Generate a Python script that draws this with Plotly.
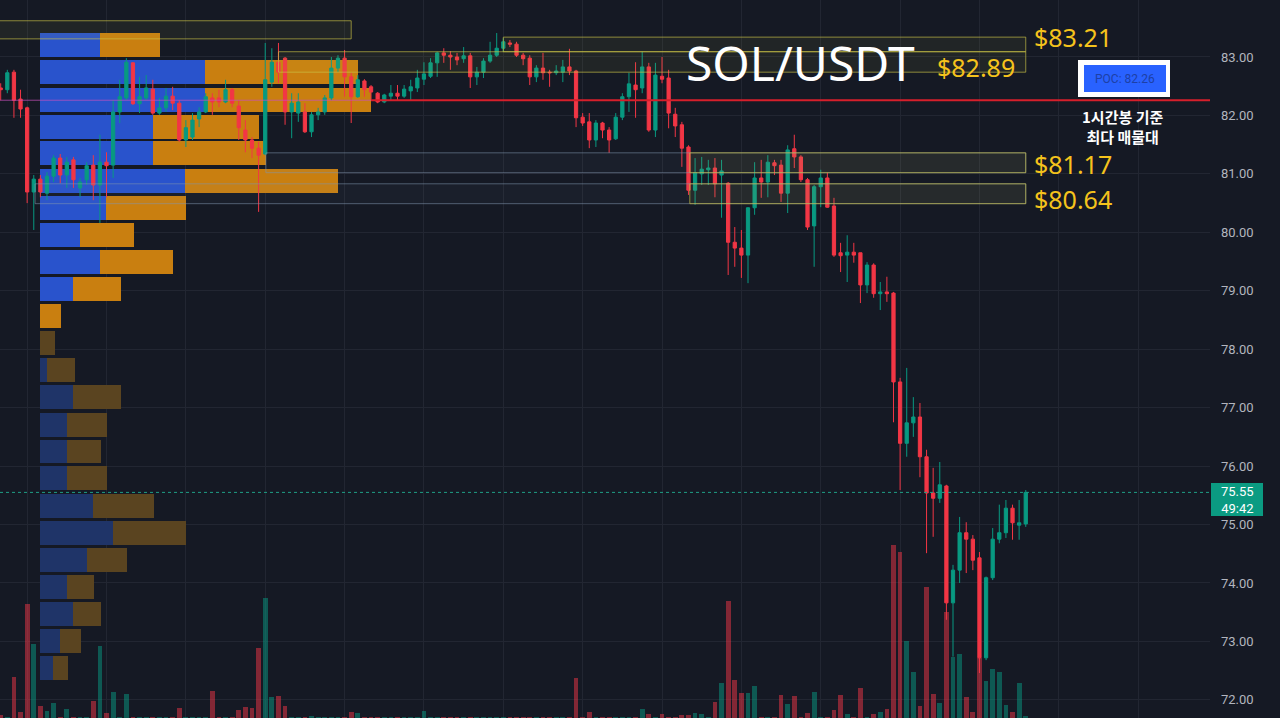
import plotly.graph_objects as go

# ---------------- data ----------------
# 1h candles, oldest first
opens = [
    82.47,
    82.44, 82.74, 82.28, 82.13, 80.69, 80.91, 80.67, 80.96, 81.27, 80.98,
    81.24, 80.76, 80.90, 81.15, 80.81, 81.20, 81.15, 82.06, 82.30, 82.90,
    82.20, 82.30, 82.45, 82.04, 82.13, 82.33, 82.21, 81.58, 81.63, 81.94,
    82.06, 82.30, 82.30, 82.23, 82.44, 82.16, 81.75, 81.58, 81.44, 81.34,
    82.57, 82.91, 82.98, 82.06, 82.04, 82.06, 81.72, 82.01, 82.06, 82.30,
    82.81, 82.98, 82.66, 82.32, 82.59, 82.49, 82.38, 82.23, 82.33, 82.38,
    82.33, 82.42, 82.47, 82.62, 82.67, 82.90, 83.07, 83.03, 83.00, 82.97,
    83.02, 82.66, 82.74, 82.93, 83.03, 83.15, 83.24, 83.22, 83.03, 82.98,
    82.66, 82.81, 82.74, 82.73, 82.74, 82.83, 82.76, 81.97, 81.89, 81.58,
    81.87, 81.75, 81.60, 81.97, 82.32, 82.52, 82.47, 82.83, 81.75, 82.67,
    82.64, 82.02, 81.84, 81.46, 80.72, 81.00, 81.07, 81.10, 80.98, 80.84,
    79.83, 79.73, 79.61, 80.42, 80.93, 80.86, 81.19, 81.15, 80.67, 81.43,
    81.29, 80.90, 80.11, 80.78, 80.93, 80.45, 79.65, 79.61, 79.66, 79.65,
    79.10, 79.44, 78.95, 78.98, 78.96, 77.44, 76.39, 76.74, 76.84, 76.16,
    75.54, 75.45, 75.66, 73.66, 74.22, 74.86, 74.75, 74.43, 72.72, 74.09,
    74.75, 74.86, 75.28, 74.99, 75.01,
]
highs = [
    82.55,
    82.78, 82.78, 82.44, 82.15, 80.98, 80.98, 81.03, 81.32, 81.34, 81.29,
    81.29, 80.93, 81.20, 81.32, 81.67, 81.37, 82.26, 82.61, 82.98, 82.91,
    82.66, 82.69, 82.61, 82.30, 82.47, 82.49, 82.26, 81.92, 82.04, 82.14,
    82.38, 82.38, 82.44, 82.61, 82.47, 82.26, 81.92, 81.63, 81.55, 83.24,
    83.15, 83.24, 83.00, 82.38, 82.38, 82.21, 82.06, 82.13, 82.35, 83.00,
    83.03, 83.12, 82.73, 82.69, 82.62, 82.52, 82.40, 82.37, 82.52, 82.52,
    82.52, 82.61, 82.78, 82.91, 82.98, 83.09, 83.15, 83.10, 83.07, 83.17,
    83.07, 82.83, 82.98, 83.26, 83.41, 83.32, 83.29, 83.26, 83.07, 83.03,
    82.86, 83.07, 82.78, 82.86, 82.95, 83.14, 82.78, 82.04, 82.04, 81.92,
    81.89, 81.80, 82.04, 82.38, 82.73, 82.91, 83.09, 82.90, 82.90, 83.00,
    82.78, 82.13, 81.89, 81.49, 81.27, 81.29, 81.24, 81.27, 81.24, 80.86,
    80.09, 80.04, 80.43, 81.20, 81.24, 81.32, 81.24, 81.24, 81.49, 81.67,
    81.32, 80.93, 80.81, 81.07, 81.02, 80.59, 79.82, 79.95, 79.82, 79.65,
    79.49, 79.47, 79.15, 79.24, 78.98, 77.51, 77.68, 77.18, 77.08, 76.28,
    75.97, 76.07, 75.68, 74.31, 75.13, 75.04, 74.82, 74.53, 74.11, 74.94,
    75.34, 75.42, 75.34, 75.42, 75.59,
]
lows = [
    82.26,
    82.38, 81.96, 81.96, 80.50, 80.04, 80.60, 80.55, 80.86, 80.84, 80.76,
    80.76, 80.60, 80.81, 80.55, 80.16, 80.60, 80.93, 81.87, 82.26, 82.18,
    82.04, 82.26, 82.01, 82.01, 82.06, 82.09, 81.55, 81.46, 81.58, 81.80,
    82.04, 82.01, 82.14, 82.21, 82.14, 81.58, 81.37, 81.27, 80.35, 81.32,
    82.49, 82.55, 81.84, 81.61, 81.89, 81.70, 81.63, 81.92, 82.01, 82.26,
    82.74, 82.32, 81.87, 82.30, 82.32, 82.26, 82.21, 82.21, 82.26, 82.26,
    82.30, 82.26, 82.40, 82.52, 82.64, 82.66, 82.90, 82.78, 82.86, 82.90,
    82.47, 82.52, 82.64, 82.90, 83.00, 83.09, 83.17, 83.00, 82.86, 82.52,
    82.57, 82.61, 82.49, 82.69, 82.57, 82.69, 81.80, 81.82, 81.44, 81.46,
    81.61, 81.36, 81.58, 81.92, 82.06, 81.96, 82.38, 81.72, 81.63, 82.55,
    81.78, 81.63, 81.12, 80.64, 80.47, 80.81, 80.81, 80.60, 80.25, 79.27,
    79.41, 79.22, 79.13, 80.30, 80.59, 80.60, 80.98, 80.52, 80.33, 81.10,
    80.86, 80.04, 79.41, 80.43, 80.42, 79.58, 79.32, 79.15, 79.48, 78.79,
    78.96, 78.88, 78.67, 78.81, 76.75, 75.59, 76.16, 76.50, 75.81, 74.51,
    74.79, 75.37, 73.37, 72.74, 74.00, 74.17, 74.22, 72.46, 72.68, 74.05,
    74.68, 74.77, 74.74, 74.74, 74.96,
]
closes = [
    82.44,
    82.73, 82.26, 82.11, 80.69, 80.91, 80.69, 80.96, 81.27, 80.98, 81.20,
    80.90, 80.86, 81.14, 80.81, 81.20, 81.14, 82.06, 82.32, 82.91, 82.20,
    82.32, 82.47, 82.04, 82.13, 82.33, 82.21, 81.58, 81.79, 81.92, 82.06,
    82.32, 82.23, 82.23, 82.44, 82.21, 81.79, 81.58, 81.44, 81.32, 82.61,
    82.91, 82.74, 82.06, 82.21, 82.23, 81.72, 82.01, 82.06, 82.30, 82.81,
    82.98, 82.66, 82.32, 82.61, 82.44, 82.40, 82.23, 82.35, 82.38, 82.33,
    82.45, 82.49, 82.64, 82.71, 82.90, 83.07, 83.03, 83.00, 82.95, 83.02,
    82.66, 82.74, 82.93, 83.03, 83.15, 83.26, 83.22, 83.03, 82.97, 82.66,
    82.81, 82.73, 82.73, 82.76, 82.83, 82.76, 81.96, 81.87, 81.58, 81.87,
    81.75, 81.58, 81.97, 82.32, 82.54, 82.44, 82.83, 81.75, 82.69, 82.62,
    82.04, 81.82, 81.44, 80.72, 81.02, 81.08, 81.10, 80.83, 81.05, 79.83,
    79.73, 79.61, 80.42, 80.93, 80.86, 81.20, 81.14, 80.67, 81.41, 81.29,
    80.90, 80.09, 80.78, 80.93, 80.43, 79.61, 79.60, 79.66, 79.61, 79.10,
    79.44, 78.95, 78.98, 78.95, 77.44, 76.39, 76.74, 76.84, 76.16, 75.54,
    75.45, 75.68, 73.66, 74.22, 74.86, 74.75, 74.39, 72.72, 74.09, 74.75,
    74.86, 75.28, 75.03, 75.03, 75.55,
]
volumes = [
    3,
    1, 41, 6, 114, 74, 12, 7, 15, 1, 9,
    1, 1, 1, 17, 72, 5, 26, 1, 24, 1,
    1, 1, 1, 1, 1, 1, 10, 1, 1, 1,
    1, 27, 1, 1, 1, 8, 11, 10, 70, 120,
    21, 22, 12, 1, 1, 1, 2, 1, 1, 1,
    1, 1, 6, 5, 1, 1, 1, 1, 1, 1,
    1, 1, 1, 7, 1, 1, 1, 1, 1, 1,
    1, 1, 1, 1, 1, 1, 1, 1, 1, 1,
    1, 1, 1, 1, 1, 1, 40, 1, 6, 1,
    1, 1, 1, 1, 1, 1, 9, 4, 1, 4,
    1, 1, 3, 3, 5, 4, 1, 16, 35, 117,
    38, 25, 25, 32, 1, 1, 1, 23, 14, 22,
    1, 5, 26, 1, 1, 8, 23, 4, 1, 30,
    1, 4, 6, 9, 173, 166, 77, 46, 12, 131,
    24, 15, 106, 61, 64, 21, 6, 60, 37, 49,
    46, 13, 6, 35, 2,
]

# volume profile rows (price level centers, buy / sell volume)
vp_price = [83.20, 82.74, 82.27, 81.81, 81.35, 80.88, 80.42, 79.96, 79.49, 79.03,
            78.57, 78.10, 77.64, 77.18, 76.71, 76.25, 75.79, 75.32, 74.86, 74.40,
            73.93, 73.47, 73.01, 72.54]
vp_buy = [60, 165, 165, 113, 113, 145, 66, 40, 60, 33,
          0, 0, 7, 33, 27, 27, 27, 53, 73, 47,
          27, 33, 20, 13]
vp_sell = [60, 153, 166, 106, 113, 153, 80, 54, 73, 48,
           21, 15, 28, 48, 40, 34, 40, 61, 73, 40,
           27, 28, 21, 15]
vp_in_value_area = [True] * 11 + [False] * 13

poc_price = 82.26
last_price = 75.55
levels = {"83.21": (83.09, 83.34), "82.89": (82.74, 83.09),
          "81.17": (81.02, 81.36), "80.64": (80.49, 80.83)}

# ---------------- styling ----------------
BG = "#151924"
GRID = "#222632"
GREEN = "#089981"
RED = "#f23645"
W, H = 1280, 718
PLOT_W = 1210
X_RANGE = [-0.106, 182.86]
Y_RANGE = [71.69, 83.975]


def pxx(x):
    return x / PLOT_W


def pxy(y):
    return 1 - y / H


idx = list(range(len(opens)))

fig = go.Figure()

# volume profile (main subplot, drawn first -> below candles)
buy_cols = ["#2953cc" if v else "#1f3468" for v in vp_in_value_area]
sell_cols = ["#c97f10" if v else "#5a4420" for v in vp_in_value_area]
fig.add_trace(go.Bar(x=vp_buy, y=vp_price, base=0, orientation="h", width=0.41,
                     marker=dict(color=buy_cols, line=dict(width=0)),
                     xaxis="x", yaxis="y", hoverinfo="skip"))
fig.add_trace(go.Bar(x=vp_sell, y=vp_price, base=vp_buy, orientation="h", width=0.41,
                     marker=dict(color=sell_cols, line=dict(width=0)),
                     xaxis="x", yaxis="y", hoverinfo="skip"))

# candles
fig.add_trace(go.Candlestick(
    x=idx, open=opens, high=highs, low=lows, close=closes,
    xaxis="x2", yaxis="y", whiskerwidth=0,
    increasing=dict(line=dict(color=GREEN, width=1), fillcolor=GREEN),
    decreasing=dict(line=dict(color=RED, width=1), fillcolor=RED),
    hoverinfo="skip"))

# volume bars
vol_cols = ["rgba(8,153,129,0.5)" if c >= o else "rgba(242,54,69,0.5)"
            for o, c in zip(opens, closes)]
fig.add_trace(go.Bar(x=idx, y=volumes, width=0.72, marker=dict(color=vol_cols, line=dict(width=0)),
                     xaxis="x2", yaxis="y2", hoverinfo="skip"))

shapes = []
YEL_LINE = "rgba(205,195,70,0.65)"
YEL_FILL = "rgba(205,195,70,0.07)"
GRY_LINE = "rgba(130,150,175,0.55)"
GRY_FILL = "rgba(130,150,175,0.05)"


def rect(x0, x1, y0, y1, line, fill):
    shapes.append(dict(type="rect", xref="x2", yref="y", x0=x0, x1=x1, y0=y0, y1=y1,
                       line=dict(color=line, width=1), fillcolor=fill, layer="above"))


rect(-2, 53, 83.31, 83.62, YEL_LINE, YEL_FILL)
rect(76, 155, *levels["83.21"], YEL_LINE, YEL_FILL)
rect(42, 155, *levels["82.89"], YEL_LINE, YEL_FILL)
rect(40.1, 155, *levels["81.17"], GRY_LINE, GRY_FILL)
rect(5.2, 155, *levels["80.64"], GRY_LINE, GRY_FILL)
rect(104.2, 155, *levels["81.17"], YEL_LINE, YEL_FILL)
rect(104.2, 155, *levels["80.64"], YEL_LINE, YEL_FILL)

# POC lines
shapes.append(dict(type="line", xref="x2", yref="y", x0=X_RANGE[0], x1=56, y0=poc_price, y1=poc_price,
                   line=dict(color="rgba(200,80,190,0.7)", width=1), layer="above"))
shapes.append(dict(type="line", xref="x2", yref="y", x0=56, x1=X_RANGE[1], y0=poc_price, y1=poc_price,
                   line=dict(color="#d61f2b", width=2), layer="above"))
# last price dotted line
shapes.append(dict(type="line", xref="paper", yref="y", x0=0, x1=1, y0=last_price, y1=last_price,
                   line=dict(color="#1f9e86", width=1, dash="dot"), layer="above"))

# POC callout box
shapes.append(dict(type="rect", xref="paper", yref="paper", x0=pxx(1078), x1=pxx(1170),
                   y0=pxy(97), y1=pxy(60), line=dict(width=0), fillcolor="#ffffff", layer="above"))
shapes.append(dict(type="rect", xref="paper", yref="paper", x0=pxx(1084), x1=pxx(1166),
                   y0=pxy(92), y1=pxy(65), line=dict(width=0), fillcolor="#2962ff", layer="above"))
# last price tag
shapes.append(dict(type="rect", xref="paper", yref="paper", x0=pxx(1211), x1=pxx(1263),
                   y0=pxy(516), y1=pxy(483), line=dict(width=0), fillcolor="#0b9b82", layer="above"))

annotations = []


def text(x, y, s, size, color, xanchor="center", family="Noto Sans"):
    annotations.append(dict(xref="paper", yref="paper", x=pxx(x), y=pxy(y), text=s,
                            showarrow=False, xanchor=xanchor, yanchor="middle",
                            font=dict(size=size, color=color, family=family)))


YEL = "#f5c31c"
text(800, 62, "SOL/USDT", 48, "#ffffff")
text(1032, 37, "$83.21", 25, YEL, "left")
text(935, 67, "$82.89", 25, YEL, "left")
text(1032, 164, "$81.17", 25, YEL, "left")
text(1032, 199, "$80.64", 25, YEL, "left")
text(1125, 79, "POC: 82.26", 12, "#1d40a6", family="Roboto")
text(1122, 126, "<b>1시간봉 기준<br>최다 매물대</b>", 15, "#ffffff", family="Noto Sans CJK KR")
text(1237, 500, "75.55<br>49:42", 13, "#ffffff", family="Roboto")

fig.update_layout(
    width=W, height=H,
    margin=dict(l=0, r=W - PLOT_W, t=0, b=0),
    paper_bgcolor=BG, plot_bgcolor=BG,
    showlegend=False, barmode="overlay", bargap=0,
    shapes=shapes, annotations=annotations,
    xaxis=dict(range=[-40, PLOT_W - 40], visible=False, fixedrange=True),
    xaxis2=dict(range=X_RANGE, overlaying="x", anchor="y", showgrid=True, gridcolor=GRID,
                tick0=4, dtick=12, showticklabels=False, zeroline=False, ticks="",
                rangeslider=dict(visible=False), showline=False),
    yaxis=dict(range=Y_RANGE, side="right", showgrid=True, gridcolor=GRID, tick0=72, dtick=1,
               tickformat=".2f", ticks="", zeroline=False, showline=False,
               tickfont=dict(color="#b2b5be", size=13, family="Roboto"), ticklabelstandoff=10),
    yaxis2=dict(range=[0, H], overlaying="y", visible=False),
)

fig.write_html("out.html")
